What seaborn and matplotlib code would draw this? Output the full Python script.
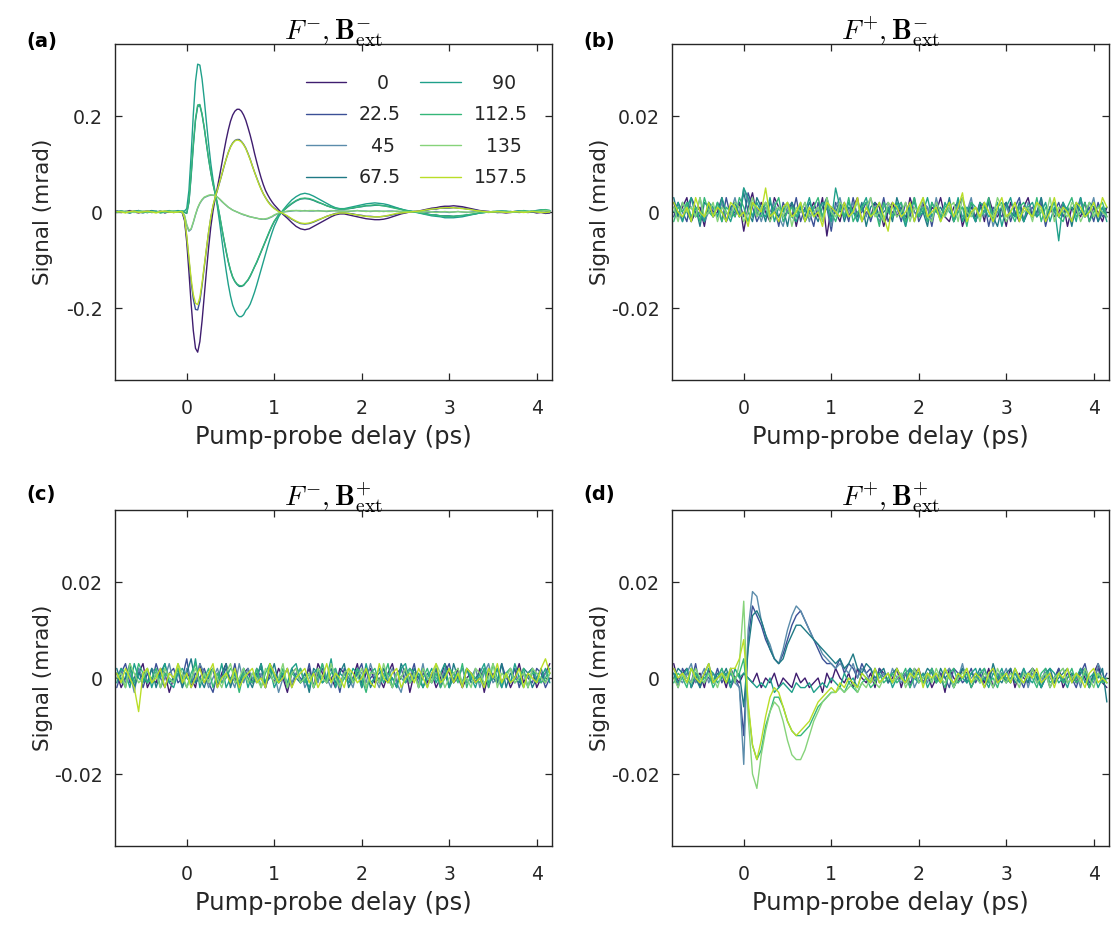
import numpy as np
import pandas as pd
import matplotlib
matplotlib.use("Agg")
import matplotlib.pyplot as plt
import seaborn as sns

# ---------------- labels / ticks ----------------
angles = ["0", "22.5", "45", "67.5", "90", "112.5", "135", "157.5"]
legend_labels = ["   0", "22.5", "  45", "67.5", "   90", "112.5", "  135", "157.5"]
colors = ["#3f1d6f", "#3b5096", "#5b8cab", "#1f7a85",
          "#1fa08a", "#35b779", "#86d37a", "#bade28"]
titles = [r"$F^{-},\mathbf{B}_{\mathrm{ext}}^{-}$", r"$F^{+},\mathbf{B}_{\mathrm{ext}}^{-}$",
          r"$F^{-},\mathbf{B}_{\mathrm{ext}}^{+}$", r"$F^{+},\mathbf{B}_{\mathrm{ext}}^{+}$"]
panel_tags = ["(a)", "(b)", "(c)", "(d)"]
xticks = [0, 1, 2, 3, 4]
xtick_labels = ["0", "1", "2", "3", "4"]
yticks_a = [-0.2, 0, 0.2]
ytick_labels_a = ["-0.2", "0", "0.2"]
yticks_s = [-0.02, 0, 0.02]
ytick_labels_s = ["-0.02", "0", "0.02"]

# delay grids (ps)
delay_a = np.round(np.concatenate([np.linspace(-0.80, -0.10, 15),
                                   np.linspace(-0.075, 1.0, 44),
                                   np.linspace(1.05, 4.15, 63)]), 3)
delay = np.round(np.linspace(-0.80, 4.15, 100), 3)

# ---------------- panel (a): signal in mrad ----------------
a_0 = [0.002,-0.001,0.001,0.003,0.000,-0.002,0.001,0.002,-0.001,0.000,0.002,-0.002,0.001,0.000,0.001,
       0.001,-0.002,-0.018,-0.063,-0.125,-0.191,-0.247,-0.284,-0.292,-0.270,-0.227,-0.175,-0.123,-0.074,-0.031,
       0.002,0.028,0.051,0.075,0.100,0.126,0.150,0.171,0.189,0.202,0.210,0.214,0.214,0.210,0.202,0.191,0.176,
       0.160,0.142,0.122,0.104,0.087,0.071,0.057,0.045,0.036,0.028,0.021,0.015,
       0.005,-0.005,-0.013,-0.022,-0.030,-0.035,-0.037,-0.035,-0.030,-0.025,-0.020,-0.015,-0.010,-0.006,-0.004,
       -0.004,-0.006,-0.008,-0.010,-0.012,-0.014,-0.015,-0.016,-0.016,-0.015,-0.013,-0.010,-0.007,-0.004,-0.002,
       0.000,0.001,0.002,0.004,0.006,0.008,0.009,0.011,0.012,0.012,0.013,0.012,0.011,0.009,0.007,0.005,0.003,
       0.002,0.001,0.000,-0.001,-0.001,-0.002,-0.001,0.000,0.001,0.000,-0.001,0.000,-0.002,-0.001,-0.003,-0.002]
a_22 = [-0.001,0.002,0.000,-0.002,0.001,0.003,0.000,-0.001,0.002,0.001,-0.001,0.000,0.002,-0.001,0.001,
        0.000,-0.001,-0.015,-0.053,-0.100,-0.146,-0.181,-0.203,-0.204,-0.186,-0.153,-0.115,-0.078,-0.042,-0.012,
        0.012,0.030,0.045,0.061,0.077,0.094,0.110,0.124,0.136,0.144,0.149,0.151,0.151,0.147,0.141,0.133,0.122,
        0.110,0.096,0.083,0.071,0.059,0.048,0.038,0.030,0.023,0.017,0.012,0.008,
        0.002,-0.004,-0.009,-0.015,-0.020,-0.024,-0.025,-0.024,-0.021,-0.017,-0.013,-0.009,-0.006,-0.003,-0.002,
        -0.002,-0.003,-0.004,-0.006,-0.007,-0.009,-0.009,-0.010,-0.010,-0.009,-0.008,-0.006,-0.004,-0.002,-0.001,
        0.000,0.001,0.001,0.003,0.004,0.006,0.006,0.008,0.008,0.008,0.009,0.008,0.008,0.006,0.005,0.004,0.002,
        0.001,0.001,0.000,-0.001,0.000,-0.001,0.001,0.000,-0.001,0.000,0.001,0.000,-0.001,0.000,-0.002,-0.001]
a_45 = [0.001,0.002,0.000,-0.001,0.002,0.001,0.000,0.002,-0.001,0.001,0.000,0.002,0.001,-0.001,0.000,
        0.000,0.000,-0.008,-0.028,-0.040,-0.036,-0.022,-0.006,0.008,0.018,0.025,0.030,0.032,0.034,0.035,
        0.035,0.034,0.031,0.027,0.022,0.018,0.014,0.010,0.007,0.004,0.002,0.000,-0.002,-0.004,-0.006,-0.007,
        -0.009,-0.010,-0.011,-0.012,-0.013,-0.014,-0.015,-0.015,-0.015,-0.014,-0.012,-0.010,-0.007,
        -0.003,0.000,0.001,0.002,0.003,0.002,0.003,0.002,0.002,0.003,0.002,0.001,0.002,0.003,0.002,
        0.002,0.001,0.002,0.003,0.002,0.002,0.001,0.002,0.002,0.001,0.002,0.002,0.001,0.001,0.002,
        0.001,0.000,0.001,0.000,-0.001,0.000,0.001,0.000,0.000,-0.001,0.000,0.001,0.000,-0.001,0.000,0.001,0.000,
        0.000,-0.001,0.000,0.001,0.000,-0.001,0.000,0.001,0.002,0.001,0.000,0.001,0.002,0.003,0.002,0.001]
a_67 = [0.002,0.000,0.001,-0.001,0.002,0.000,-0.002,0.001,0.003,0.000,0.001,-0.001,0.000,0.002,0.001,
        0.000,0.001,-0.001,-0.003,0.020,0.074,0.137,0.191,0.220,0.222,0.203,0.175,0.142,0.110,0.082,
        0.058,0.038,0.017,-0.007,-0.033,-0.058,-0.082,-0.104,-0.122,-0.136,-0.145,-0.151,-0.155,-0.155,-0.153,
        -0.147,-0.142,-0.134,-0.124,-0.114,-0.105,-0.094,-0.083,-0.072,-0.061,-0.050,-0.039,-0.029,-0.020,
        -0.006,0.002,0.010,0.017,0.023,0.027,0.028,0.027,0.024,0.020,0.017,0.013,0.010,0.007,0.006,
        0.006,0.007,0.008,0.010,0.011,0.013,0.013,0.014,0.014,0.013,0.012,0.010,0.008,0.006,0.003,
        0.002,0.001,-0.001,-0.003,-0.004,-0.006,-0.006,-0.008,-0.008,-0.008,-0.009,-0.008,-0.008,-0.006,-0.005,
        -0.004,-0.002,-0.001,0.000,0.000,0.001,0.002,0.001,0.000,0.001,0.002,0.001,0.000,0.002,0.003,0.004,0.003,0.002]
a_90 = [-0.001,0.002,0.000,-0.002,0.001,0.003,0.000,-0.001,0.002,0.001,-0.002,0.000,0.002,0.001,0.003,
        0.002,0.002,0.002,0.007,0.045,0.119,0.203,0.272,0.308,0.306,0.277,0.235,0.187,0.142,0.101,
        0.068,0.040,0.011,-0.021,-0.056,-0.090,-0.122,-0.151,-0.175,-0.194,-0.206,-0.214,-0.218,-0.218,-0.214,
        -0.205,-0.200,-0.192,-0.180,-0.167,-0.152,-0.136,-0.120,-0.104,-0.088,-0.072,-0.057,-0.043,-0.030,
        -0.010,0.004,0.015,0.025,0.032,0.037,0.039,0.037,0.033,0.028,0.023,0.018,0.013,0.009,0.007,
        0.007,0.009,0.011,0.013,0.015,0.017,0.018,0.019,0.018,0.017,0.015,0.012,0.009,0.006,0.004,
        0.002,0.000,-0.002,-0.004,-0.006,-0.008,-0.009,-0.010,-0.012,-0.012,-0.012,-0.011,-0.010,-0.008,-0.006,
        -0.004,-0.002,-0.001,0.000,0.001,0.001,0.002,0.001,0.000,0.001,0.002,0.001,0.000,0.002,0.003,0.004,0.004,0.003]
a_112 = [0.000,0.002,-0.001,0.001,0.000,0.002,0.001,-0.001,0.000,0.002,-0.001,0.001,0.003,0.000,0.001,
         0.001,0.002,0.000,-0.002,0.022,0.078,0.141,0.194,0.223,0.224,0.204,0.176,0.143,0.111,0.083,
         0.059,0.039,0.018,-0.006,-0.032,-0.057,-0.081,-0.103,-0.121,-0.135,-0.144,-0.150,-0.153,-0.154,-0.152,
         -0.147,-0.141,-0.133,-0.124,-0.114,-0.104,-0.093,-0.082,-0.071,-0.060,-0.049,-0.038,-0.028,-0.019,
         -0.006,0.003,0.011,0.018,0.024,0.028,0.029,0.028,0.025,0.021,0.017,0.013,0.010,0.008,0.006,
         0.006,0.007,0.009,0.010,0.012,0.013,0.014,0.015,0.014,0.013,0.011,0.009,0.007,0.005,0.003,
         0.002,0.000,-0.001,-0.003,-0.005,-0.006,-0.007,-0.008,-0.009,-0.009,-0.009,-0.008,-0.007,-0.006,-0.005,
         -0.003,-0.002,-0.001,0.000,0.001,0.002,0.001,0.002,0.001,0.000,0.001,0.003,0.002,0.001,0.002,0.004,0.005,0.003]
a_135 = [0.000,0.001,0.002,0.000,-0.001,0.001,0.002,0.000,0.001,-0.001,0.002,0.000,0.001,0.002,0.000,
         0.001,0.000,-0.007,-0.026,-0.038,-0.035,-0.021,-0.005,0.009,0.019,0.026,0.031,0.033,0.035,0.036,
         0.035,0.034,0.031,0.027,0.023,0.018,0.014,0.010,0.007,0.004,0.002,0.000,-0.002,-0.004,-0.005,-0.007,
         -0.008,-0.010,-0.011,-0.012,-0.013,-0.014,-0.014,-0.015,-0.014,-0.013,-0.011,-0.009,-0.006,
         -0.002,0.000,0.002,0.003,0.003,0.003,0.002,0.003,0.003,0.002,0.002,0.002,0.003,0.002,0.002,
         0.001,0.002,0.002,0.003,0.002,0.001,0.002,0.002,0.001,0.002,0.001,0.001,0.002,0.001,0.001,
         0.000,0.001,0.000,0.000,0.001,0.000,-0.001,0.000,0.001,0.000,0.000,0.001,0.000,0.000,-0.001,0.000,0.001,
         0.000,0.000,0.001,0.000,0.001,0.000,-0.001,0.000,0.001,0.001,0.000,0.002,0.001,0.002,0.003,0.002]
a_157 = [0.001,0.000,-0.002,0.001,0.002,-0.001,0.000,0.002,0.000,-0.002,0.001,0.002,0.000,-0.001,0.000,
         0.001,0.000,-0.013,-0.050,-0.095,-0.139,-0.172,-0.190,-0.193,-0.178,-0.148,-0.112,-0.076,-0.041,-0.011,
         0.013,0.031,0.046,0.062,0.078,0.095,0.110,0.124,0.135,0.143,0.148,0.150,0.149,0.146,0.140,0.132,0.121,
         0.109,0.096,0.083,0.070,0.058,0.047,0.038,0.030,0.022,0.016,0.011,0.007,
         0.001,-0.003,-0.008,-0.014,-0.019,-0.023,-0.024,-0.023,-0.020,-0.016,-0.013,-0.009,-0.006,-0.004,-0.002,
         -0.002,-0.003,-0.005,-0.006,-0.008,-0.009,-0.010,-0.010,-0.010,-0.009,-0.007,-0.005,-0.003,-0.002,-0.001,
         0.000,0.001,0.002,0.003,0.005,0.006,0.007,0.008,0.009,0.009,0.009,0.008,0.007,0.006,0.005,0.003,0.002,
         0.001,0.000,0.000,0.001,0.000,-0.001,0.000,0.001,0.000,-0.001,0.000,0.001,0.000,-0.001,-0.001,0.000]

# ---------------- panels (b)-(d): signal in microrad ----------------
b_0 = [2,-1,1,3,-2,0,1,-3,2,-1, 0,3,-2,1,-1,2,-4,1,4,-1, 2,0,-2,3,1,-1,0,2,-3,1,
       -2,0,2,-1,3,-5,1,0,-2,2, -1,1,3,-2,0,-1,2,1,-3,0, 2,-1,1,-2,3,0,-1,2,-2,1,
       0,3,-1,-2,1,2,-3,0,1,-1, 2,-2,3,0,-1,1,-3,2,0,-2, 1,3,-1,0,2,-2,1,-1,0,2,
       -3,1,0,-1,2,-2,1,0,-2,1]
b_22 = [-1,2,0,-2,3,1,-1,-2,2,0, 1,-2,3,-1,0,2,-1,4,1,-2, 0,2,-1,1,-3,2,0,-1,3,-2,
        1,0,-3,2,-1,1,-4,2,0,1, -2,3,-1,0,2,-2,1,-1,3,-2, 0,1,-2,2,-1,3,-2,0,1,-3,
        2,-1,0,2,-2,1,3,-1,0,-2, 1,2,-3,1,0,-1,2,-2,1,3, -2,0,1,-1,2,-3,1,0,2,-1,
        1,-2,0,3,-1,1,-2,2,-1,0]
b_45 = [1,0,-2,2,1,-1,3,-2,0,1, -1,2,-2,0,3,-1,5,2,-1,1, -2,1,0,2,-1,-3,1,2,-1,0,
        2,-2,1,0,-1,2,-3,1,3,-1, 0,2,-2,1,-1,3,0,-2,1,2, -1,0,2,-3,1,0,-1,2,1,-2,
        3,-1,0,1,-2,2,-1,0,3,-2, 1,-1,2,-3,0,1,2,-1,0,1, -2,2,0,-1,3,-2,1,0,-1,2,
        0,-2,1,2,-1,0,3,-2,1,-1]
b_67 = [3,-1,2,0,-2,1,-3,2,1,-1, 2,0,-2,1,2,-1,4,0,-2,3, 1,-2,2,0,-1,1,-3,2,0,1,
        -1,2,0,-2,1,3,-1,0,2,-2, 1,0,-1,2,-3,1,2,-1,0,1, -2,3,0,-1,2,-2,1,0,-3,2,
        0,1,-1,3,-2,0,1,-1,2,-2, 1,0,2,-1,-3,1,2,0,-1,2, -2,1,-1,0,3,-2,1,2,-1,0,
        1,-3,2,0,-1,2,1,-2,0,1]
b_90 = [0,2,-2,1,3,-1,0,-2,2,1, -1,3,0,-2,1,-1,5,3,-1,2, 0,-1,3,-2,1,0,2,-1,-2,1,
        0,3,-1,0,2,1,-2,5,1,-1, 2,0,-2,1,3,-1,0,2,-2,1, -1,2,0,-3,1,2,-1,0,3,-1,
        1,-2,2,0,-1,3,-2,1,0,-2, 2,1,-1,0,2,-3,1,3,-1,0, -2,1,2,-1,0,2,-2,1,-6,2,
        0,1,-2,3,-1,0,2,-1,1,-2]
b_112 = [-2,1,0,2,-1,1,-2,3,0,-1, 2,-2,1,0,-1,3,1,-2,2,0, -1,2,-1,1,3,-2,0,1,-1,2,
         -2,0,1,3,-1,2,0,-2,1,-1, 3,-2,0,1,2,-1,1,-3,2,0, -1,1,2,-2,0,3,-1,1,-2,2,
         0,-1,1,2,-2,0,1,-3,2,1, -1,0,3,-2,1,2,-1,0,-2,1, 2,0,-1,3,-2,1,0,2,-1,-2,
         1,3,-1,0,2,-2,0,1,2,-1]
b_135 = [1,-2,2,0,1,-1,3,-1,0,2, -2,1,0,-1,2,1,-2,0,3,-1, 1,2,-2,0,1,-1,2,-3,1,0,
         2,-1,0,1,-2,3,0,-1,2,1, -1,0,2,-2,1,3,-1,0,-2,2, 1,-1,0,2,-2,1,0,3,-1,-2,
         2,0,-1,1,2,-2,3,0,-1,1, -2,2,0,-1,3,1,-2,0,2,-1, 0,1,-2,2,0,-1,3,-2,1,0,
         -1,2,1,-2,0,2,-1,1,0,-1]
b_157 = [2,0,-1,1,-2,3,0,-1,2,-1, 1,0,-2,2,1,-1,0,-3,2,1, 0,5,-1,0,-2,1,2,-1,0,2,
         -2,1,-1,0,-3,2,1,0,-1,2, -1,0,3,-2,1,-1,0,2,-1,-4, 2,1,-1,0,2,-2,1,3,-1,0,
         1,-2,0,2,-1,1,4,-2,0,1, -1,2,0,-2,1,3,-1,0,2,-2, 1,0,-1,2,1,-2,0,3,-1,1,
         0,-2,2,1,-1,0,2,-1,3,1]

c_0 = [1,-2,0,2,-1,1,3,-2,0,-1, 2,1,-3,0,2,-1,1,0,-2,3, -1,0,2,-2,1,3,-1,0,-2,1,
       2,-1,0,3,-2,1,-1,2,0,-3, 1,2,-1,0,2,-2,3,1,-1,0, -2,2,1,-1,0,3,-2,1,2,-1,
       0,-2,1,3,-1,0,2,-3,1,0, 2,-1,1,-2,0,3,1,-1,2,-2, 0,1,-1,2,-3,1,0,2,-1,1,
       -2,0,3,-1,1,2,-2,0,1,3]
c_22 = [-2,1,3,-1,0,2,-2,1,-1,3, 0,-2,1,2,-1,0,4,-2,1,0, 2,-1,-3,1,0,2,-1,3,-2,0,
        1,-1,2,0,-2,3,1,-1,0,2, -2,1,0,-1,3,-2,1,2,-1,0, 1,-3,2,0,-1,1,3,-2,0,1,
        -1,2,0,-2,1,2,-1,0,3,-2, 1,0,-1,2,-2,1,3,-1,0,-2, 2,1,-1,0,2,-2,1,-1,3,0,
        -1,2,-2,1,0,-1,2,1,-2,0]
c_45 = [0,2,-1,1,-3,2,0,-1,2,1, -2,0,3,-1,1,-2,2,0,-1,3, 1,-2,0,2,-1,1,0,-2,3,-1,
        2,0,-1,1,-2,2,1,-3,0,2, -1,1,2,-2,0,1,-1,3,0,-2, 2,-1,1,0,-2,2,1,-1,3,0,
        -2,1,0,2,-1,-3,1,2,0,-1, 3,-2,1,0,-1,2,-2,1,0,2, -1,0,2,-2,1,3,-1,0,-2,1,
        2,-1,0,1,-2,2,0,-1,1,2]
c_67 = [2,-1,0,3,-2,1,0,-1,2,-2, 1,3,-1,0,2,-2,1,4,-1,0, -2,1,2,-1,0,3,-2,1,-1,2,
        0,-2,1,2,-1,0,3,-1,1,-2, 2,0,-1,1,-3,2,1,-1,0,2, -1,1,3,-2,0,1,-1,2,-2,0,
        1,2,-1,0,-2,3,1,-1,2,0, -2,1,0,2,-1,1,-2,3,0,-1, 2,-1,0,1,-2,2,0,-1,3,-2,
        1,0,-1,2,1,-2,0,2,-1,1]
c_90 = [-1,2,1,-2,3,0,-1,2,-2,1, 0,3,-1,-2,1,2,0,-1,4,-2, 1,0,2,-1,3,-2,0,1,-1,2,
        -2,1,0,3,-1,2,-2,0,1,-1, 2,3,-1,0,-2,1,2,-1,0,4, -2,1,0,-1,2,1,-2,3,-1,0,
        2,-1,1,0,-2,2,3,-1,0,1, -2,0,2,-1,1,3,-2,0,1,-1, 2,0,-2,1,3,-1,0,2,-2,1,
        -1,3,0,-2,1,2,-1,0,2,-1]
c_112 = [1,0,-2,2,-1,3,1,-1,0,2, -2,1,0,-1,2,0,-2,1,3,-1, 0,2,-2,1,-1,0,2,1,-3,1,
         0,-1,2,-2,1,3,0,-1,2,-2, 1,0,2,-1,1,-2,0,3,-1,1, 2,-2,0,1,-1,2,0,-3,1,2,
         -1,0,3,-2,1,0,-1,2,1,-2, 0,2,-1,1,-2,0,2,1,-1,3, -2,1,0,-1,2,-2,3,0,-1,1,
         2,-1,0,2,-2,1,1,-1,0,2]
c_135 = [0,1,-2,3,1,-1,0,2,-1,1, -2,2,0,-1,3,1,-2,0,2,-1, 1,-1,2,0,-2,1,3,-1,0,2,
         -1,1,0,-2,2,1,-1,0,3,-2, 1,2,-1,0,1,-2,2,0,-1,3, 0,-2,1,2,-1,0,2,-2,1,1,
         -1,3,0,-2,1,0,2,-1,1,-2, 2,0,-1,3,1,-2,0,1,2,-1, 0,-2,2,1,-1,0,3,-2,1,0,
         2,-1,0,1,-2,2,1,0,-1,1]
c_157 = [1,-1,2,0,-2,-7,1,2,-1,0, 2,-2,1,0,3,-1,1,-2,0,2, -1,1,3,-2,0,1,-1,2,-2,0,
         1,2,-1,0,-2,3,1,-1,0,2, -2,0,1,2,-1,1,-2,0,3,-1, 1,0,-2,2,1,-1,0,2,-1,-2,
         3,0,-1,1,2,-2,0,1,-1,2, 0,-2,1,3,-1,0,2,-1,1,-2, 2,1,-1,0,-2,2,0,3,-1,1,
         -1,0,2,-2,1,0,-1,2,4,1]

d_0 = [3,-1,1,2,-2,0,1,-2,2,-1, 0,1,-2,2,0,-1,1,0,-1,1, -2,0,-1,1,-2,0,-1,-2,1,-1,
       0,-2,-1,0,-3,1,-1,2,0,-1, 1,-2,2,0,-1,1,-2,2,1,-1, 0,2,-2,1,-1,0,2,-1,1,-2,
       0,1,-3,2,0,-1,2,1,-2,0, 1,-1,2,-2,0,1,-1,2,-2,1, 0,-1,2,1,-2,0,1,-1,2,-2,
       0,1,-1,2,0,-2,1,3,-1,-2]
d_22 = [1,-2,2,0,-1,3,-2,1,0,-1, 2,-1,1,-2,0,-2,-12,8,15,13, 11,8,6,4,3,5,8,11,13,14,
        12,10,8,6,4,3,3,2,4,1, 3,2,0,3,1,2,-1,2,0,1, -1,2,0,1,-2,2,1,-1,0,2,
        -1,1,0,-2,2,1,-1,0,2,-1, 1,-2,0,2,-1,1,0,-1,2,0, -2,1,2,-1,0,1,-2,0,2,-1,
        1,0,-2,1,3,-1,0,2,-1,1]
d_45 = [2,0,-1,1,3,-1,0,2,-1,1, 0,2,-1,1,-1,-2,-18,10,18,17, 12,9,7,4,3,6,10,13,15,14,
        12,10,8,7,5,4,3,2,3,2, 1,3,0,2,1,-1,2,0,1,-1, 2,0,-1,1,2,-2,0,1,-1,2,
        0,-1,1,2,-2,0,3,-1,0,1, -1,2,0,-2,1,0,2,-1,1,0, 2,-2,1,0,-1,2,0,-1,1,2,
        -1,0,1,-2,2,0,-1,3,1,-1]
d_67 = [0,2,1,-1,2,0,-2,1,3,-1, 1,0,2,-1,0,1,-6,6,13,14, 12,9,6,4,3,4,7,9,11,11,
        10,9,8,7,6,5,4,3,4,2, 3,5,2,1,3,2,0,1,2,-1, 1,2,0,-1,2,1,-1,0,2,1,
        -1,2,0,1,-2,0,2,-1,1,0, 2,0,-1,3,0,-1,1,2,-1,0, 1,-1,2,0,-2,1,2,-1,0,1,
        2,-1,0,1,2,-2,1,0,2,-5]
d_90 = [1,-1,0,2,-2,1,0,-1,2,1, -1,0,1,-2,2,0,1,0,-1,-2, -1,-2,0,-3,-2,-1,-2,-3,-1,-2,
        -2,-1,-3,-2,-1,-2,0,-1,-2,1, -1,0,-2,1,0,-1,2,-1,0,1, -2,0,1,-1,2,0,-1,1,-2,0,
        1,-1,2,0,-2,1,0,-1,1,2, -1,0,-2,1,0,2,-1,0,1,-1, 2,0,-1,1,-2,0,2,1,-1,0,
        -2,1,0,2,-1,0,1,-2,0,-1]
d_112 = [-1,1,0,-2,2,1,-1,0,1,-2, 0,2,-1,1,0,1,4,-6,-14,-17, -15,-10,-7,-4,-4,-6,-9,-11,-12,-12,
         -11,-10,-8,-6,-5,-4,-3,-3,-2,-3, -1,-2,-3,-1,0,-2,-1,1,-1,0, 1,-1,0,2,-2,0,1,-1,0,2,
         -1,0,-2,1,2,-1,0,1,-2,0, 1,2,-1,0,-2,1,0,-1,2,0, -1,1,0,-2,1,2,-1,0,1,-1,
         0,2,-1,0,1,-2,0,1,-1,0]
d_135 = [0,-2,1,0,-1,2,0,-1,1,0, -2,1,0,2,-1,3,16,-8,-20,-23, -16,-11,-7,-5,-6,-9,-13,-16,-17,-17,
         -15,-12,-9,-7,-5,-4,-3,-3,-2,-3, -2,-1,-3,-1,-2,0,-1,-2,0,1, -1,0,1,-2,0,2,-1,0,1,-1,
         2,0,-1,1,-2,0,1,2,-1,0, -1,1,0,-2,2,0,-1,1,0,-2, 1,0,2,-1,0,1,-2,0,1,2,
         -1,0,1,-1,2,0,-2,1,0,-1]
d_157 = [2,0,1,-1,2,0,-1,1,3,-1, 0,1,-1,2,2,4,8,-5,-14,-17, -13,-8,-4,-2,-3,-6,-9,-11,-12,-11,
         -10,-9,-7,-5,-4,-3,-2,-3,-1,-2, 0,-1,-2,1,0,-1,2,-1,0,1, -1,2,0,-1,1,0,2,-2,1,0,
         1,-1,2,0,-1,1,0,2,-1,1, 0,-2,1,2,-1,0,1,-1,2,0, -1,1,0,2,-1,0,1,-2,1,0,
         2,-1,1,0,-2,1,2,-1,0,-1]

panel_a = [a_0, a_22, a_45, a_67, a_90, a_112, a_135, a_157]
panel_b = [b_0, b_22, b_45, b_67, b_90, b_112, b_135, b_157]
panel_c = [c_0, c_22, c_45, c_67, c_90, c_112, c_135, c_157]
panel_d = [d_0, d_22, d_45, d_67, d_90, d_112, d_135, d_157]


def long_frame(x, series, scale):
    rows = []
    for ang, vals in zip(angles, series):
        n = min(len(x), len(vals))
        rows.append(pd.DataFrame({"delay": x[:n],
                                  "signal": np.asarray(vals[:n], float) * scale,
                                  "angle": ang}))
    return pd.concat(rows, ignore_index=True)


frames = [long_frame(delay_a, panel_a, 1.0),
          long_frame(delay, panel_b, 1e-3),
          long_frame(delay, panel_c, 1e-3),
          long_frame(delay, panel_d, 1e-3)]

# ---------------- style ----------------
sns.set_style("ticks")
plt.rcParams["font.family"] = ["DejaVu Sans"]
plt.rcParams["mathtext.fontset"] = "cm"
plt.rcParams["axes.unicode_minus"] = False
ink = "#262626"

W, H = 1112, 931
fig = plt.figure(figsize=(W / 100, H / 100), dpi=100)
axw, axh = 436.6, 336
boxes = [(115, 44), (672, 44), (115, 510), (672, 510)]
tag_y = [41.5, 41.5, 494, 494]
palette = dict(zip(angles, colors))

for k, ((lx, ty), df) in enumerate(zip(boxes, frames)):
    ax = fig.add_axes([lx / W, 1 - (ty + axh) / H, axw / W, axh / H])
    sns.lineplot(data=df, x="delay", y="signal", hue="angle", hue_order=angles,
                 palette=palette, estimator=None, sort=False, lw=1.0,
                 legend=False, ax=ax)
    ax.set_xlim(-0.82, 4.17)
    if k == 0:
        ax.set_ylim(-0.35, 0.35)
        ax.set_yticks(yticks_a)
        ax.set_yticklabels(ytick_labels_a)
    else:
        ax.set_ylim(-0.035, 0.035)
        ax.set_yticks(yticks_s)
        ax.set_yticklabels(ytick_labels_s)
    ax.set_xticks(xticks)
    ax.set_xticklabels(xtick_labels)
    for s in ax.spines.values():
        s.set_visible(True)
        s.set_color(ink)
        s.set_linewidth(1.0)
    ax.tick_params(axis="both", direction="in", length=4.7, width=0.9,
                   colors=ink, labelsize=13.6, top=True, right=True)
    ax.tick_params(axis="x", pad=13.5)
    ax.tick_params(axis="y", pad=9)
    ax.set_xlabel("Pump-probe delay (ps)", fontsize=17.5, color=ink)
    ax.set_ylabel("Signal (mrad)", fontsize=15.5, color=ink)
    ax.xaxis.set_label_coords(0.5, -0.135)
    ax.yaxis.set_label_coords(-0.142, 0.5)
    ax.set_title(titles[k], fontsize=20, pad=3, color="black")
    fig.text((lx - 89) / W, 1 - tag_y[k] / H, panel_tags[k], fontsize=14,
             fontweight="bold", ha="left", va="center", color="black")
    if k == 0:
        handles = ax.get_lines()[:8]
        ax.legend(handles, legend_labels, ncol=2, frameon=False, fontsize=13.6,
                  loc="upper left", bbox_to_anchor=(0.4375, 0.911), borderpad=0,
                  borderaxespad=0, handlelength=2.12, handletextpad=0.69,
                  columnspacing=1.02, labelspacing=0.66)

fig.savefig("out.png", dpi=100)
